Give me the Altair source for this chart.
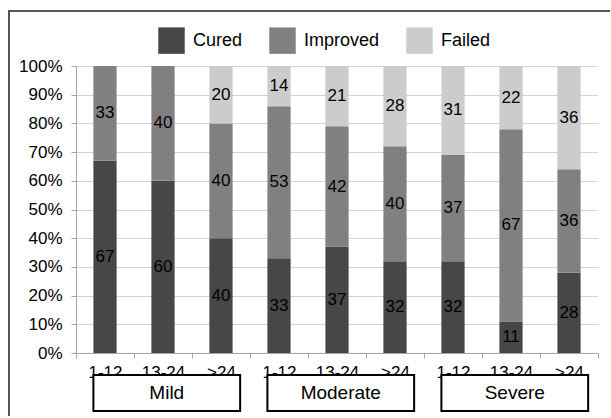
import altair as alt
import pandas as pd

# Treatment outcome by severity and duration (months)
groups = ["Mild", "Moderate", "Severe"]
durations = ["1-12", "13-24", ">24"]
series = ["Cured", "Improved", "Failed"]
cured = [67, 60, 40, 33, 37, 32, 32, 11, 28]
improved = [33, 40, 40, 53, 42, 40, 37, 67, 36]
failed = [0, 0, 20, 14, 21, 28, 31, 22, 36]
colors = ["#474747", "#808080", "#cccccc"]
y_ticks = [0, 10, 20, 30, 40, 50, 60, 70, 80, 90, 100]

keys = [f"{g}|{d}" for g in groups for d in durations]

rows = []
for i, k in enumerate(keys):
    base = 0
    for s, vals in zip(series, [cured, improved, failed]):
        v = vals[i]
        rows.append({"key": k, "series": s, "value": v,
                     "y0": base, "y1": base + v, "mid": base + v / 2})
        base += v
df = pd.DataFrame(rows)

gdf = pd.DataFrame({"group": groups, "first": keys[0::3],
                    "middle": keys[1::3], "last": keys[2::3]})

xscale = alt.Scale(domain=keys, paddingInner=0, paddingOuter=0)
yscale = alt.Scale(domain=[0, 100])

x_axis = alt.Axis(labelExpr="split(datum.value, '|')[1]", labelAngle=0,
                  labelFontSize=17, labelPadding=6, tickSize=5,
                  tickBand="extent", domainColor="#a6a6a6",
                  tickColor="#a6a6a6", labelColor="black", grid=False)
y_axis = alt.Axis(values=y_ticks, labelExpr="datum.value + '%'",
                  labelFontSize=17, labelPadding=9, tickSize=5,
                  domainColor="#a6a6a6", tickColor="#a6a6a6",
                  gridColor="#d4d4d4", labelColor="black", grid=True,
                  labelOverlap=False)

bars = alt.Chart(df).mark_bar(width=alt.RelativeBandSize(0.4)).encode(
    x=alt.X("key:N", scale=xscale, title=None, axis=x_axis),
    y=alt.Y("y0:Q", scale=yscale, title=None, axis=y_axis),
    y2="y1:Q",
    color=alt.Color("series:N", scale=alt.Scale(domain=series, range=colors),
                    legend=alt.Legend(orient="none", legendX=82, legendY=-39,
                                      direction="horizontal", columns=3, title=None,
                                      symbolType="square", symbolSize=700,
                                      symbolStrokeWidth=0, symbolOpacity=1,
                                      labelFontSize=18, labelOffset=8,
                                      columnPadding=26, padding=0,
                                      labelColor="black")),
)

labels = alt.Chart(df).transform_filter("datum.value > 0").mark_text(
    fontSize=17, color="black", baseline="middle"
).encode(
    x=alt.X("key:N", scale=xscale, title=None, axis=x_axis),
    y=alt.Y("mid:Q", scale=yscale, title=None, axis=y_axis),
    text="value:Q",
)

boxes = alt.Chart(gdf).mark_rect(fill="white", stroke="black", strokeWidth=2).encode(
    x=alt.X("first:N", scale=xscale, bandPosition=0.3, title=None, axis=x_axis),
    x2=alt.X2("last", bandPosition=0.83),
    y=alt.value(309),
    y2=alt.value(345),
)

box_text = alt.Chart(gdf).mark_text(fontSize=19, color="black", baseline="middle").encode(
    x=alt.X("middle:N", scale=xscale, bandPosition=0.565, title=None, axis=x_axis),
    y=alt.value(327),
    text="group:N",
)

# Outer frame: thin filled strips along the top and left edges
frame_top = alt.Chart(gdf).mark_rect(color="#555555", strokeWidth=0).encode(
    x=alt.value(-68), x2=alt.value(534), y=alt.value(-56), y2=alt.value(-54)
)
frame_left = alt.Chart(gdf).mark_rect(color="#555555", strokeWidth=0).encode(
    x=alt.value(-68), x2=alt.value(-66), y=alt.value(-56), y2=alt.value(350)
)

chart = alt.layer(bars, labels, boxes, box_text, frame_top, frame_left).properties(
    width=522, height=287,
    autosize=alt.AutoSizeParams(type="none"),
    padding={"left": 76, "top": 66, "right": 13, "bottom": 65},
).configure(font="Liberation Sans").configure_view(strokeWidth=0)

chart.save("out.html", embed_options={"renderer": "svg", "actions": False})
